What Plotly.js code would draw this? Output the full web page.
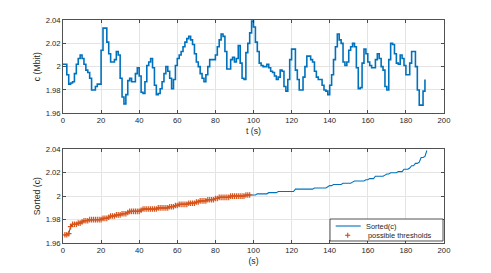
<!DOCTYPE html>
<html>
<head>
<meta charset="utf-8">
<script src="https://cdn.plot.ly/plotly-3.0.1.min.js"></script>
<style>html,body{margin:0;padding:0;background:#fff;}#plot{width:491px;height:273px;}</style>
</head>
<body>
<div id="plot"></div>
<script>
// c(t) in Mbit, one value per second, t = 0..190
const cValues = [
 2.002,2.002,1.993,1.985,1.986,1.987,1.994,2.002,2.007,2.010,
 2.007,2.002,1.997,1.995,1.990,1.980,1.980,1.983,1.985,1.985,
 2.014,2.033,2.033,2.021,2.011,2.004,2.004,2.006,2.013,2.010,
 1.990,1.974,1.968,1.976,1.988,1.990,1.987,1.987,1.994,1.999,
 1.992,1.978,1.977,1.987,2.001,2.004,2.007,1.999,1.984,1.976,
 1.977,1.981,1.987,1.994,2.000,1.996,1.990,1.981,1.989,2.001,
 2.007,2.010,2.013,2.017,2.021,2.024,2.026,2.023,2.019,2.011,
 2.004,2.000,1.994,1.990,1.987,1.993,2.000,2.006,2.006,2.006,
 2.010,2.017,2.023,2.028,2.026,2.013,1.998,1.998,2.006,2.008,
 2.004,2.007,2.018,2.003,1.990,1.989,2.012,2.020,2.029,2.039,
 2.034,2.021,2.013,2.003,2.001,2.000,2.000,2.002,1.999,1.996,
 1.995,1.992,1.989,1.991,1.997,1.996,1.983,1.979,1.989,2.006,
 2.015,2.015,1.997,1.989,1.980,1.980,1.991,2.000,2.009,2.009,
 2.006,2.004,1.996,1.991,1.989,1.989,1.984,1.980,1.979,1.976,
 1.984,1.993,2.006,2.017,2.028,2.023,2.020,2.004,2.001,2.004,
 2.014,2.017,2.020,2.017,1.999,1.981,1.982,2.003,2.015,2.011,
 2.004,2.001,1.999,1.999,2.006,2.011,2.007,2.000,1.997,1.983,
 1.980,2.006,2.020,2.019,2.011,2.003,2.002,2.010,2.007,2.001,
 1.993,1.993,2.003,2.013,2.013,2.000,1.980,1.967,1.967,1.979,
 1.989
];
const tSeconds = cValues.map((_, i) => i);
const nThresholds = 98;
const xTickVals = [0,20,40,60,80,100,120,140,160,180,200];
const yTickVals = [1.96,1.98,2.00,2.02,2.04];
const yTickText = ['1.96','1.98','2','2.02','2.04'];
const legendNames = ['Sorted(c)', 'possible thresholds'];

const sortedValues = cValues.slice().sort((a, b) => a - b);
const sortedIndex = sortedValues.map((_, i) => i + 1);

const blue = '#0072BD', orange = '#D95319', axc = '#262626', gridc = '#e4e4e4';
const fam = 'Liberation Sans, Arial, Helvetica, sans-serif';

const traces = [
  {x: tSeconds, y: cValues, type: 'scatter', mode: 'lines', line: {shape: 'hv', color: blue, width: 1.6},
   xaxis: 'x', yaxis: 'y', showlegend: false, hoverinfo: 'skip'},
  {x: sortedIndex, y: sortedValues, type: 'scatter', mode: 'lines', name: legendNames[0], line: {color: blue, width: 1.1},
   xaxis: 'x2', yaxis: 'y2', showlegend: false},
  {x: sortedIndex.slice(0, nThresholds), y: sortedValues.slice(0, nThresholds), type: 'scatter', mode: 'markers',
   name: legendNames[1], marker: {symbol: 'cross-thin-open', size: 4, color: orange, line: {color: orange, width: 1.2}},
   xaxis: 'x2', yaxis: 'y2', showlegend: false}
];

function xax(title, anchor) {
  return {anchor: anchor, domain: [0, 1], range: [0, 200], tickvals: xTickVals, showgrid: true, gridcolor: gridc, gridwidth: 1,
    zeroline: false, showline: true, mirror: 'ticks', linecolor: axc, linewidth: 0.8, ticks: 'inside', ticklen: 3,
    tickcolor: axc, tickwidth: 0.8, tickfont: {family: fam, size: 7.7, color: axc},
    title: {text: title, font: {family: fam, size: 8.7, color: axc}, standoff: 3}};
}
function yax(title, anchor, dom) {
  return {anchor: anchor, domain: dom, range: [1.96, 2.04], tickvals: yTickVals, ticktext: yTickText, showgrid: true,
    gridcolor: gridc, gridwidth: 1, zeroline: false, showline: true, mirror: 'ticks', linecolor: axc, linewidth: 0.8,
    ticks: 'inside', ticklen: 3, tickcolor: axc, tickwidth: 0.8, tickfont: {family: fam, size: 7.7, color: axc},
    title: {text: title, font: {family: fam, size: 8.7, color: axc}, standoff: 3}};
}

// compact legend box (paper coordinates), matching the reference's tight legend
const L = {x0: 0.7008, x1: 0.9974, y0: 0.009, y1: 0.1076};
const row1 = 0.0762, row2 = 0.0345;
const shapes = [
  {type: 'rect', xref: 'paper', yref: 'paper', x0: L.x0, x1: L.x1, y0: L.y0, y1: L.y1,
   line: {color: axc, width: 0.8}, fillcolor: '#fff', layer: 'above'},
  {type: 'line', xref: 'paper', yref: 'paper', x0: 0.7157, x1: 0.7814, y0: row1, y1: row1,
   line: {color: blue, width: 1.1}, layer: 'above'},
  {type: 'line', xref: 'paper', yref: 'paper', x0: 0.7472 - 0.0066, x1: 0.7472 + 0.0066, y0: row2, y1: row2,
   line: {color: orange, width: 1.2}, layer: 'above'},
  {type: 'line', xref: 'paper', yref: 'paper', x0: 0.7472, x1: 0.7472, y0: row2 - 0.0112, y1: row2 + 0.0112,
   line: {color: orange, width: 1.2}, layer: 'above'}
];
const annotations = [
  {xref: 'paper', yref: 'paper', x: 0.790, y: row1, xanchor: 'left', yanchor: 'middle', text: legendNames[0],
   showarrow: false, font: {family: fam, size: 7.4, color: axc}},
  {xref: 'paper', yref: 'paper', x: 0.7953, y: row2, xanchor: 'left', yanchor: 'middle', text: legendNames[1],
   showarrow: false, font: {family: fam, size: 7.4, color: axc}}
];

const layout = {
  width: 491, height: 273,
  margin: {l: 63, r: 47, t: 20, b: 30},
  paper_bgcolor: '#fff', plot_bgcolor: '#fff',
  font: {family: fam, color: axc},
  xaxis: xax('t (s)', 'y'),
  yaxis: yax('c (Mbit)', 'x', [0.5816, 1]),
  xaxis2: xax('(s)', 'y2'),
  yaxis2: yax('Sorted (c)', 'x2', [0, 0.42]),
  showlegend: false,
  shapes: shapes,
  annotations: annotations
};

Plotly.newPlot('plot', traces, layout, {staticPlot: true, displayModeBar: false});
</script>
</body>
</html>
